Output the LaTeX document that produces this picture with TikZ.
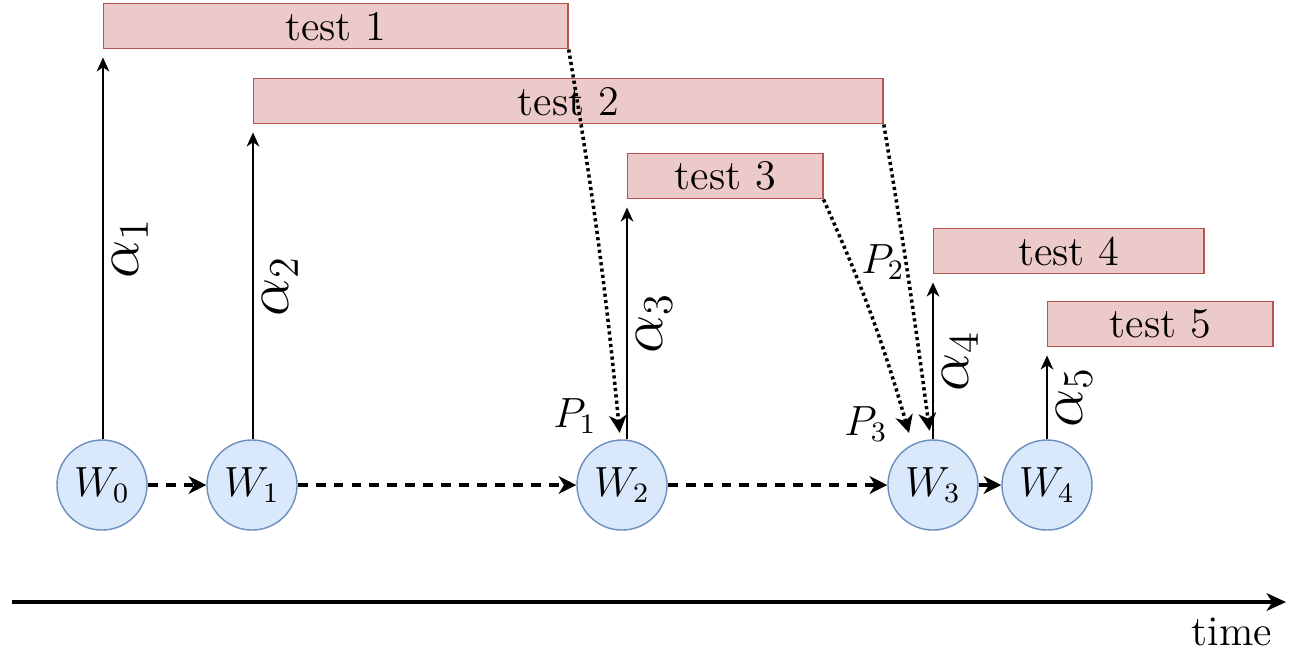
\documentclass[tikz,border=0pt]{standalone}
\usetikzlibrary{arrows.meta}

\definecolor{wfill}{RGB}{218,232,252}
\definecolor{wborder}{RGB}{108,142,191}
\definecolor{tfill}{RGB}{236,202,201}
\definecolor{tborder}{RGB}{184,84,80}

\begin{document}
\begin{tikzpicture}[x=0.01cm, y=-0.01cm]
    \tikzset{
        worker/.style={circle, draw=wborder, fill=wfill, line width=0.4pt, minimum size=0.9cm, inner sep=0pt, font=\large},
        testbox/.style={draw=tborder, fill=tfill, line width=0.4pt, minimum width=#1, minimum height=0.45cm, anchor=north west, inner sep=0pt, font=\large},
        alphaline/.style={-{Stealth[length=4pt, width=3.6pt, inset=1.2pt]}, line width=0.45pt},
        alphalabel/.style={midway, anchor=north, rotate=90, inner sep=2.5pt, font=\LARGE},
        waitline/.style={-{Stealth[length=5pt, width=5pt, inset=1.5pt]}, line width=1pt, dash pattern=on 2.8pt off 2.3pt},
        moveline/.style={-{Stealth[length=5pt, width=5pt, inset=1.5pt]}, line width=1pt},
        proofline/.style={-{Stealth[length=5pt, width=5pt, inset=1.5pt]}, line width=1pt, dash pattern=on 0.9pt off 0.9pt, shorten >=1pt},
    }
    \useasboundingbox (0,0) rectangle (1300,650);

    % Workers
    \node[worker] (W0) at (102,485) {$W_0$};
    \node[worker] (W1) at (252,485) {$W_1$};
    \node[worker] (W2) at (622,485) {$W_2$};
    \node[worker] (W3) at (933,485) {$W_3$};
    \node[worker] (W4) at (1047,485) {$W_4$};

    % Tests
    \node[testbox=4.64cm] (test1) at (103,3) {test 1};
    \node[testbox=6.29cm] (test2) at (253,78) {test 2};
    \node[testbox=1.95cm] (test3) at (627,153) {test 3};
    \node[testbox=2.70cm] (test4) at (933,228) {test 4};
    \node[testbox=2.25cm] (test5) at (1047,301) {test 5};

    % Chain
    \draw[waitline] (W0) -- (W1);
    \draw[waitline] (W1) -- (W2);
    \draw[waitline] (W2) -- (W3);
    \draw[moveline] (W3) -- (W4);

    % Alphas
    \draw[alphaline] (W0.north -| test1.south west) -- ([yshift=-0.08cm]test1.south west) node[alphalabel] {$\alpha_1$};
    \draw[alphaline] (W1.north -| test2.south west) -- ([yshift=-0.08cm]test2.south west) node[alphalabel] {$\alpha_2$};
    \draw[alphaline] (W2.north -| test3.south west) -- ([yshift=-0.08cm]test3.south west) node[alphalabel] {$\alpha_3$};
    \draw[alphaline] (W3.north -| test4.south west) -- ([yshift=-0.08cm]test4.south west) node[alphalabel] {$\alpha_4$};
    \draw[alphaline] (W4.north -| test5.south west) -- ([yshift=-0.08cm]test5.south west) node[alphalabel] {$\alpha_5$};

    % Proofs
    \draw[proofline] (test1.south east) to[bend left=2] ([xshift=-0.02cm, yshift=0.03cm]W2.north);
    \draw[proofline] (test2.south east) to[bend left=1] ([xshift=-0.03cm, yshift=0.05cm]W3.north);
    \draw[proofline] (test3.south east) to[bend left=4] ([xshift=-0.23cm, yshift=0.03cm]W3.north);
    \node[font=\large] (p1) at (575,416) {$P_1$};
    \node[font=\large] (p2) at (883,262) {$P_2$};
    \node[font=\large] (p3) at (866,424) {$P_3$};

    % Time
    \coordinate (tstart) at (12,602);
    \coordinate (tend) at (1286,602);
    \draw[-{Stealth[length=5.5pt, width=5pt, inset=1.6pt]}, line width=1pt] (tstart) -- (tend);
    \node[font=\large] (timelabel) at (1232,632) {time};

\end{tikzpicture}
\end{document}
